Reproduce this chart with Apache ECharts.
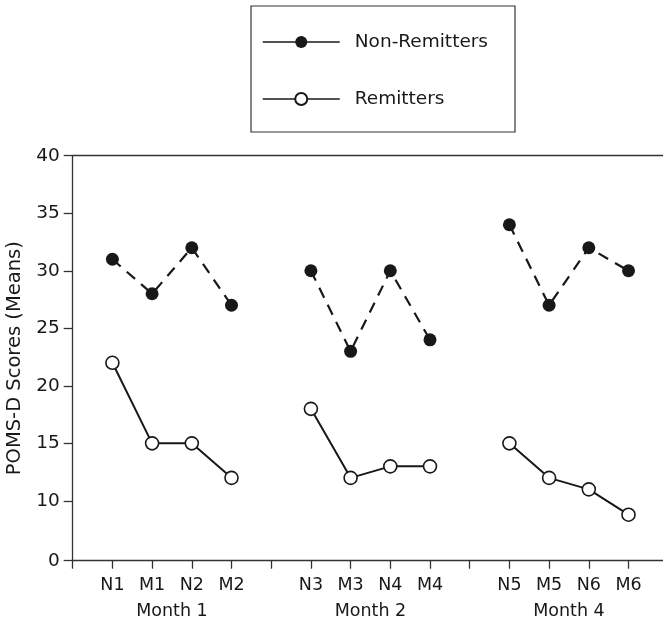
<!DOCTYPE html>
<html>
<head>
<meta charset="utf-8">
<script src="https://cdn.jsdelivr.net/npm/echarts@6/dist/echarts.min.js"></script>
<style>
  html, body { margin: 0; padding: 0; background: #fff; }
  #main { width: 663px; height: 621px; }
</style>
</head>
<body>
<div id="main"></div>
<script>
// data
var categories = ['N1', 'M1', 'N2', 'M2', 'N3', 'M3', 'N4', 'M4', 'N5', 'M5', 'N6', 'M6'];
var months = ['Month 1', 'Month 2', 'Month 4'];
var nonRemitters = [31, 28, 32, 27, 30, 23, 30, 24, 34, 27, 32, 30];
var remitters = [22, 15, 15, 12, 18, 12, 13, 13, 15, 12, 11, 8.8];
var yTicks = [10, 15, 20, 25, 30, 35, 40];
var yBottom = 4.8;   // axis is broken: bottom tick is labelled 0
var yBottomLabel = '0';

var ink = '#1a1718';
var font = 'DejaVu Sans';

// slot layout: empty slot, 4 points, empty slot, 4 points ...
var slots = [''];
var nonData = [null], remData = [null];
categories.forEach(function (c, i) {
    slots.push(c);
    nonData.push(nonRemitters[i]);
    remData.push(remitters[i]);
    if (i % 4 === 3) {
        slots.push('');
        nonData.push(null);
        remData.push(null);
    }
});
var monthPos = months.map(function (m, i) { return 2.5 + i * 5; });

var myChart = echarts.init(document.getElementById('main'));

option = {
    animation: false,
    textStyle: { fontFamily: font, color: ink },
    grid: { left: 72.7, top: 155.7, width: 595.5, height: 405, outerBoundsMode: 'none', containLabel: false },
    legend: {
        orient: 'vertical',
        left: 251,
        top: 6,
        padding: [26, 27, 23, 11],
        itemGap: 37,
        itemWidth: 77,
        itemHeight: 15,
        borderColor: '#333',
        borderWidth: 1.2,
        lineStyle: { type: 'solid', width: 1.5 },
        textStyle: { fontFamily: font, fontSize: 18.5, color: ink, lineHeight: 20, padding: [0, 0, 0, 10] },
        data: ['Non-Remitters', 'Remitters']
    },
    xAxis: [
        {
            type: 'category',
            data: slots,
            boundaryGap: false,
            axisLine: { lineStyle: { color: '#333', width: 1.3 } },
            axisTick: { length: 8, interval: 0, lineStyle: { color: '#333', width: 1.3 } },
            axisLabel: { interval: 0, margin: 15, fontSize: 17.5, color: ink, fontFamily: font, lineHeight: 20 }
        },
        {
            type: 'value',
            position: 'top',
            min: 0,
            max: 1,
            axisLine: { show: true, lineStyle: { color: '#333', width: 1.3 } },
            axisTick: { show: false },
            axisLabel: { show: false },
            splitLine: { show: false }
        },
        {
            type: 'value',
            position: 'bottom',
            min: 0,
            max: slots.length - 1,
            axisLine: { show: false },
            axisTick: { show: false },
            splitLine: { show: false },
            axisLabel: {
                customValues: monthPos,
                margin: 41,
                fontSize: 17.5,
                lineHeight: 20,
                color: ink,
                fontFamily: font,
                formatter: function (v) { return months[monthPos.indexOf(v)]; }
            }
        }
    ],
    yAxis: {
        type: 'value',
        min: yBottom,
        max: 40,
        name: 'POMS-D Scores (Means)',
        nameLocation: 'middle',
        nameGap: 46,
        nameTextStyle: { fontSize: 19.5, color: ink, fontFamily: font },
        axisLine: { show: true, lineStyle: { color: '#333', width: 1.3 } },
        axisTick: { show: true, length: 9, customValues: [yBottom].concat(yTicks), lineStyle: { color: '#333', width: 1.3 } },
        axisLabel: {
            customValues: [yBottom].concat(yTicks),
            margin: 13,
            fontSize: 18.5,
            color: ink,
            fontFamily: font,
            formatter: function (v) { return v === yBottom ? yBottomLabel : String(v); }
        },
        splitLine: { show: false }
    },
    series: [
        {
            name: 'Non-Remitters',
            type: 'line',
            data: nonData,
            symbol: 'circle',
            symbolSize: 13,
            itemStyle: { color: ink, borderWidth: 0 },
            lineStyle: { color: ink, width: 2.2, type: [11, 8] },
            z: 3
        },
        {
            name: 'Remitters',
            type: 'line',
            data: remData,
            symbol: 'circle',
            symbolSize: 13,
            showAllSymbol: true,
            itemStyle: { color: '#fff', borderColor: ink, borderWidth: 1.6 },
            lineStyle: { color: ink, width: 2 },
            z: 3
        }
    ]
};

myChart.setOption(option);
window.onresize = myChart.resize;
</script>
</body>
</html>
